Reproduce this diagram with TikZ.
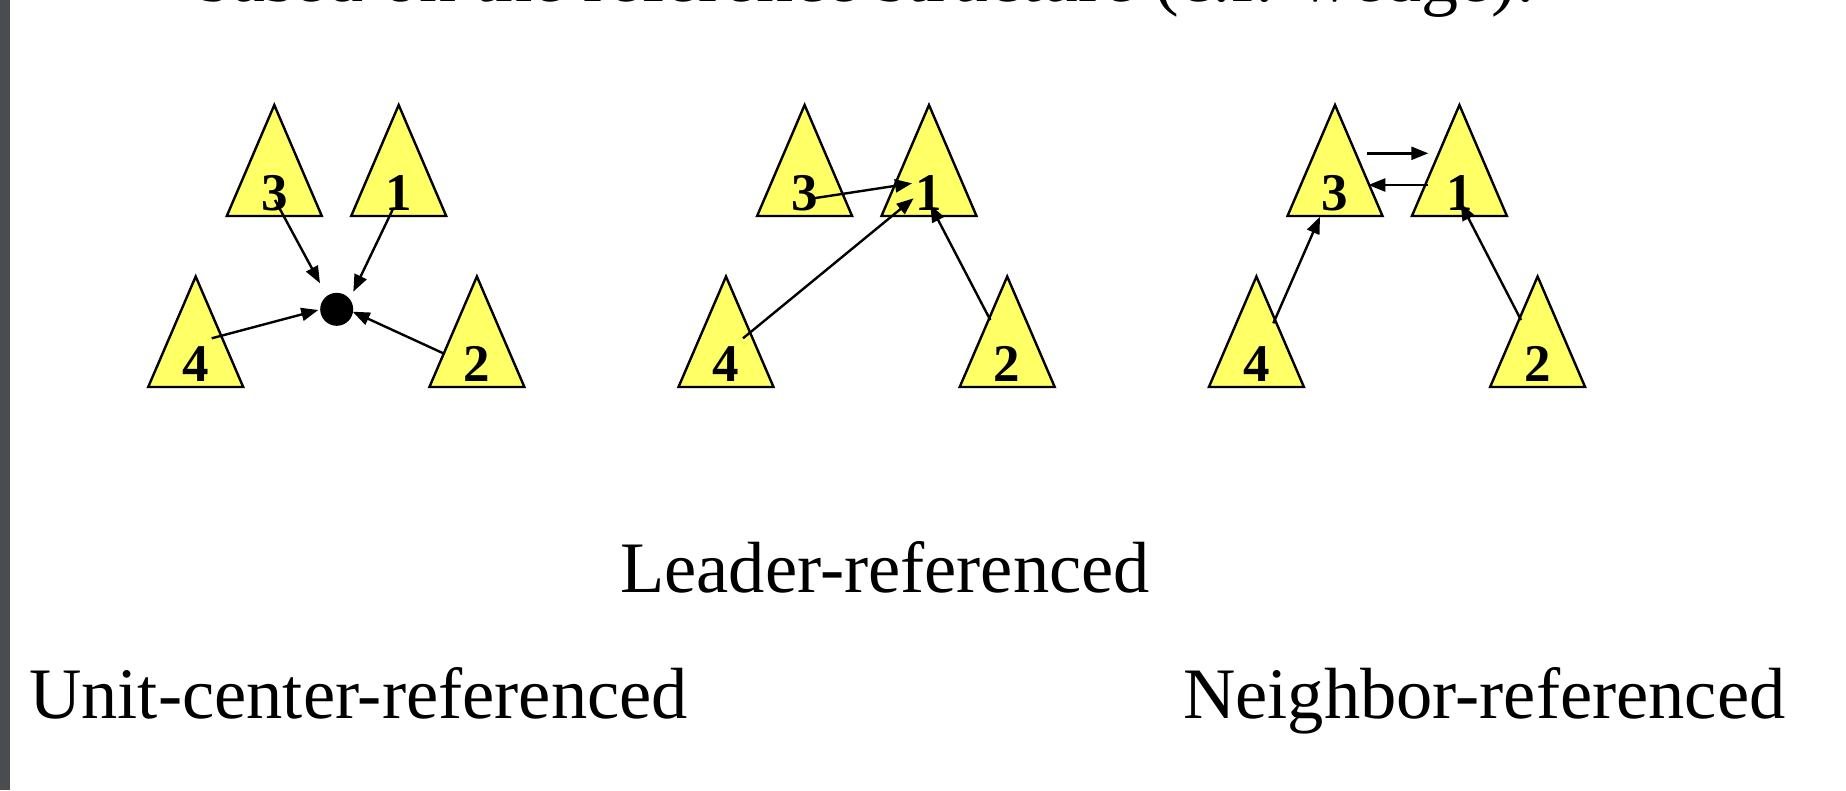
\documentclass[tikz,border=0pt]{standalone}
\usepackage{fontspec}
\setmainfont{Liberation Serif}
\usetikzlibrary{arrows.meta}
\definecolor{triyellow}{RGB}{255,255,102}
\definecolor{barcol}{RGB}{74,77,80}
\tikzset{
  tri/.style={draw=black, fill=triyellow, line width=2.4pt, line join=miter},
  num/.style={font=\fontsize{53}{53}\selectfont\bfseries, inner sep=0pt, anchor=base},
  arr/.style={-{Triangle[length=17pt,width=13pt]}, line width=2.4pt},
  captext/.style={font=\fontsize{72.5}{72.5}\selectfont, inner sep=0pt, anchor=base west},
}
\newcommand{\unitgroup}[1]{%
  \draw[tri] (274.3,105) -- ++(47.5,111) -- ++(-95,0) -- cycle;
  \draw[tri] (398.7,105) -- ++(47.5,111) -- ++(-95,0) -- cycle;
  \draw[tri] (195.7,276.5) -- ++(47.5,110.5) -- ++(-95,0) -- cycle;
  \draw[tri] (476.9,276.5) -- ++(47.5,110.5) -- ++(-95,0) -- cycle;
  \node[num] (#1-3) at (274.3,210) {3};
  \node[num] (#1-1) at (398.7,210) {1};
  \node[num] (#1-4) at (195.7,381) {4};
  \node[num] (#1-2) at (476.9,381) {2};
}
\begin{document}
\begin{tikzpicture}[x=1pt,y=-1pt]
\useasboundingbox (0,0) rectangle (1846,790);
\fill[white] (0,0) rectangle (1846,790);
\fill[barcol] (0,0) rectangle (10,790);
\begin{scope}
  \clip (0,0) rectangle (1846,790);
  \node[captext, font=\fontsize{74}{74}\selectfont, anchor=base east] (title) at (1535,1.5) {based on the reference structure (c.f. wedge).};
\end{scope}

% Unit-center-referenced
\begin{scope}
  \unitgroup{u}
  \node[circle, fill=black, minimum size=33pt, inner sep=0pt] (dot) at (336.7,309.3) {};
  \coordinate (u3s) at (275,200);   \coordinate (u3e) at (320,283.3);
  \coordinate (u1s) at (393.3,208.3); \coordinate (u1e) at (353.3,291.7);
  \coordinate (u4s) at (211.7,338.3); \coordinate (u4e) at (318.3,310);
  \coordinate (u2s) at (443.3,353.3); \coordinate (u2e) at (352.7,311.7);
  \draw[arr] (u3s) -- (u3e);
  \draw[arr] (u1s) -- (u1e);
  \draw[arr] (u4s) -- (u4e);
  \draw[arr] (u2s) -- (u2e);
\end{scope}

% Leader-referenced
\begin{scope}[xshift=530.3pt]
  \unitgroup{l}
  \coordinate (l3s) at (283.3,198.3); \coordinate (l3e) at (381.7,183.3);
  \coordinate (l4s) at (212.7,338.3); \coordinate (l4e) at (383.3,198.3);
  \coordinate (l2s) at (460,320);     \coordinate (l2e) at (400,205);
  \draw[arr] (l3s) -- (l3e);
  \draw[arr] (l4s) -- (l4e);
  \draw[arr] (l2s) -- (l2e);
\end{scope}

% Neighbor-referenced
\begin{scope}[xshift=1060.7pt]
  \unitgroup{n}
  \coordinate (n31s) at (306,153.3);   \coordinate (n31e) at (367.6,153.3);
  \coordinate (n13s) at (367.6,185);   \coordinate (n13e) at (307.6,185);
  \coordinate (n4s) at (212.6,323.3);  \coordinate (n4e) at (259.3,216.7);
  \coordinate (n2s) at (460.3,320);    \coordinate (n2e) at (400,203.3);
  \draw[arr] (n31s) -- (n31e);
  \draw[arr] (n13s) -- (n13e);
  \draw[arr] (n4s) -- (n4e);
  \draw[arr] (n2s) -- (n2e);
\end{scope}

\node[captext] (capl) at (620,592) {Leader-referenced};
\node[captext] (capu) at (29,718) {Unit-center-referenced};
\node[captext] (capn) at (1183,718) {Neighbor-referenced};
\end{tikzpicture}
\end{document}
